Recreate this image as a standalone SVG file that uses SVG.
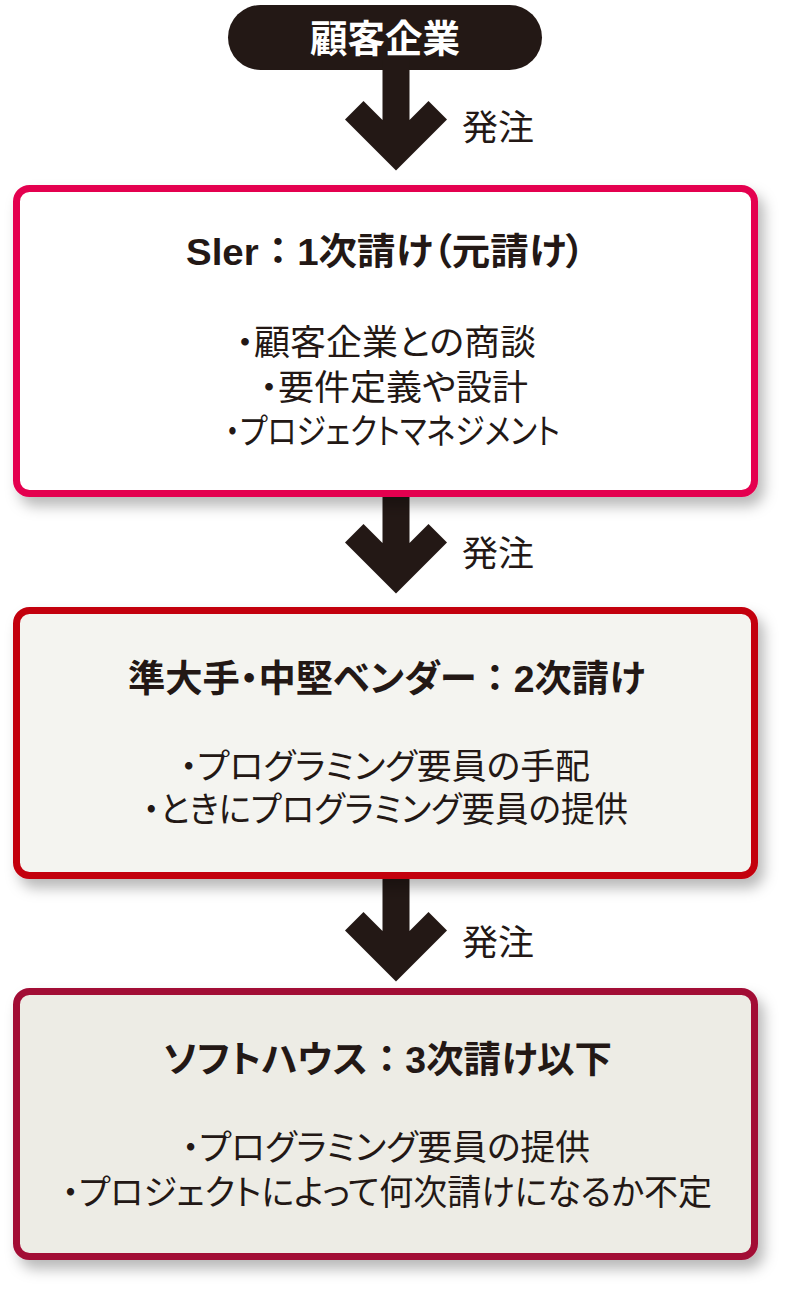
<svg xmlns="http://www.w3.org/2000/svg" width="800" height="1300" viewBox="0 0 800 1300">
<defs>
<filter id="sh" x="-10%" y="-10%" width="125%" height="130%">
<feDropShadow dx="6" dy="9" stdDeviation="7" flood-color="#000" flood-opacity="0.28"/>
</filter>
<style>
text{font-family:"Liberation Sans","Noto Sans CJK JP",sans-serif;fill:#231815;text-anchor:middle;font-feature-settings:"palt"}
.t{font-size:37px;font-weight:700}
.c{font-feature-settings:normal}
.b{font-size:35px;font-family:"Noto Sans CJK JP",sans-serif}
.lab{font-size:35px;font-family:"Noto Sans CJK JP",sans-serif;text-anchor:start}
.arr{fill:#231815}
.box{stroke-width:7}
</style>
</defs>
<rect width="800" height="1300" fill="#ffffff"/>

<g id="customer">
<rect x="228" y="5" width="314" height="65" rx="32.5" fill="#231815"/>
<text x="385" y="52" style="font-size:38px;font-weight:700;fill:#ffffff" textLength="150" lengthAdjust="spacingAndGlyphs">顧客企業</text>
</g>

<g id="connectors">
<path class="arr" d="M382.5,60 L409.5,60 L409.5,120 L428.5,101 L447,119.5 L396,170.5 L345,119.5 L363.5,101 L382.5,120 Z"/>
<text class="lab" x="462" y="140" textLength="72" lengthAdjust="spacingAndGlyphs">発注</text>
<path class="arr" d="M382.5,490 L409.5,490 L409.5,543 L428.5,524 L447,542.5 L396,593.5 L345,542.5 L363.5,524 L382.5,543 Z"/>
<text class="lab" x="462" y="566" textLength="72" lengthAdjust="spacingAndGlyphs">発注</text>
<path class="arr" d="M382.5,872 L409.5,872 L409.5,931 L428.5,912 L447,930.5 L396,981.5 L345,930.5 L363.5,912 L382.5,931 Z"/>
<text class="lab" x="462" y="955" textLength="72" lengthAdjust="spacingAndGlyphs">発注</text>
</g>

<g id="sier">
<rect class="box" x="16.5" y="188.5" width="738" height="305" rx="13" fill="#ffffff" stroke="#E4004F" filter="url(#sh)"/>
<text class="t" x="385.5" y="265" textLength="399" lengthAdjust="spacingAndGlyphs">Sler<tspan class="c">：</tspan>1次請け（元請け）</text>
<text class="b" x="386" y="355" textLength="300" lengthAdjust="spacingAndGlyphs">・顧客企業との商談</text>
<text class="b" x="394" y="400" textLength="268" lengthAdjust="spacingAndGlyphs">・要件定義や設計</text>
<text class="b" x="392.5" y="444" textLength="335" lengthAdjust="spacingAndGlyphs">・プロジェクトマネジメント</text>
</g>

<g id="vendor">
<rect class="box" x="16.5" y="610.5" width="738" height="265" rx="13" fill="#F4F4F0" stroke="#C3000F" filter="url(#sh)"/>
<text class="t" x="386.5" y="692" textLength="517" lengthAdjust="spacingAndGlyphs">準大手・中堅ベンダー<tspan class="c">：</tspan>2次請け</text>
<text class="b" x="385" y="779" textLength="410" lengthAdjust="spacingAndGlyphs">・プログラミング要員の手配</text>
<text class="b" x="385.5" y="822" textLength="485" lengthAdjust="spacingAndGlyphs">・ときにプログラミング要員の提供</text>
</g>

<g id="softhouse">
<rect class="box" x="16.5" y="991.5" width="738" height="265" rx="13" fill="#EDECE5" stroke="#A20C36" filter="url(#sh)"/>
<text class="t" x="387.5" y="1073" textLength="449" lengthAdjust="spacingAndGlyphs">ソフトハウス<tspan class="c">：</tspan>3次請け以下</text>
<text class="b" x="386" y="1160" textLength="408" lengthAdjust="spacingAndGlyphs">・プログラミング要員の提供</text>
<text class="b" x="387" y="1205" textLength="650" lengthAdjust="spacingAndGlyphs">・プロジェクトによって何次請けになるか不定</text>
</g>
</svg>
